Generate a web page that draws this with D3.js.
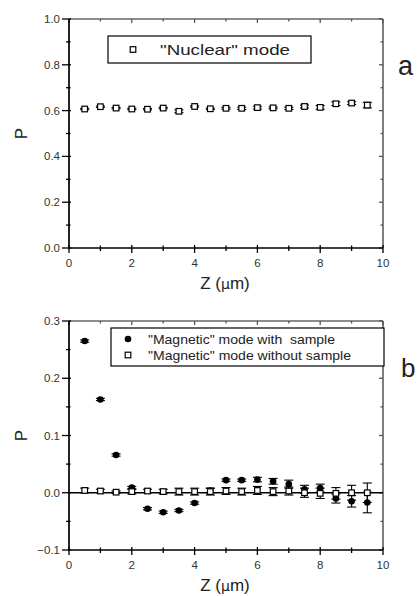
<!DOCTYPE html>
<html>
<head>
<meta charset="utf-8">
<script src="https://cdn.jsdelivr.net/npm/d3@7"></script>
<style>
  body { margin: 0; background: #fff; }
  svg text { font-family: "Liberation Sans", Arial, sans-serif; white-space: pre; }
</style>
</head>
<body>
<div id="chart"></div>
<script>
// positions along the sample (um)
var zVals = [0.5, 1, 1.5, 2, 2.5, 3, 3.5, 4, 4.5, 5, 5.5, 6, 6.5, 7, 7.5, 8, 8.5, 9, 9.5];

// panel a - "Nuclear" mode
var nuclear    = [0.607, 0.617, 0.611, 0.607, 0.606, 0.611, 0.597, 0.618, 0.608, 0.610, 0.610, 0.613, 0.612, 0.610, 0.618, 0.614, 0.630, 0.633, 0.624];
var nuclearErr = [0.003, 0.003, 0.003, 0.003, 0.003, 0.003, 0.006, 0.003, 0.003, 0.004, 0.005, 0.006, 0.004, 0.005, 0.006, 0.008, 0.008, 0.006, 0.012];

// panel b - "Magnetic" mode
var withSample    = [0.265, 0.163, 0.066, 0.009, -0.028, -0.034, -0.031, -0.018, 0.004, 0.022, 0.022, 0.023, 0.020, 0.015, 0.006, 0.008, -0.010, -0.015, -0.017];
var withSampleErr = [0.002, 0.002, 0.002, 0.002, 0.002, 0.002, 0.002, 0.002, 0.004, 0.002, 0.002, 0.004, 0.005, 0.007, 0.007, 0.007, 0.008, 0.010, 0.018];
var noSample      = [0.004, 0.003, 0.001, 0.002, 0.003, 0.002, 0.002, 0.002, 0.002, 0.003, 0.002, 0.004, 0.002, 0.003, 0.000, -0.001, -0.001, 0.000, 0.000];
var noSampleErr   = [0.004, 0.003, 0.002, 0.004, 0.003, 0.004, 0.006, 0.006, 0.006, 0.006, 0.006, 0.007, 0.007, 0.007, 0.008, 0.009, 0.010, 0.013, 0.017];

var xTicks = [0, 2, 4, 6, 8, 10];
var yTicksA = [0, 0.2, 0.4, 0.6, 0.8, 1.0];
var yTicksB = [-0.1, 0, 0.1, 0.2, 0.3];

var W = 420, H = 596;
var svg = d3.select("#chart").append("svg")
    .attr("width", W).attr("height", H);

function drawPanel(top, yDomain, yTicks, series, legend, letter) {
  var left = 69, right = 383, bottom = top + 229;
  var x = d3.scaleLinear().domain([0, 10]).range([left, right]);
  var y = d3.scaleLinear().domain(yDomain).range([bottom, top]);
  var g = svg.append("g");
  var step = yTicks[1] - yTicks[0];
  var minorY = d3.range(yDomain[0] + step / 2, yDomain[1], step);
  var minorX = d3.range(1, 10, 2);

  // frame: grey top/right, black left/bottom
  g.append("line").attr("x1", left).attr("x2", right).attr("y1", top).attr("y2", top)
    .attr("stroke", "#666").attr("stroke-width", 1.3);
  g.append("line").attr("x1", right).attr("x2", right).attr("y1", top).attr("y2", bottom)
    .attr("stroke", "#555").attr("stroke-width", 1.5);

  // ticks
  function ticksX(vals, a, b, yy, col) {
    g.selectAll(null).data(vals).enter().append("line")
      .attr("x1", function (d) { return x(d); }).attr("x2", function (d) { return x(d); })
      .attr("y1", yy + a).attr("y2", yy + b)
      .attr("stroke", col).attr("stroke-width", 1.3);
  }
  function ticksY(vals, a, b, xx, col) {
    g.selectAll(null).data(vals).enter().append("line")
      .attr("y1", function (d) { return y(d); }).attr("y2", function (d) { return y(d); })
      .attr("x1", xx + a).attr("x2", xx + b)
      .attr("stroke", col).attr("stroke-width", 1.3);
  }
  ticksX(xTicks, -3, 5, bottom, "#000");
  ticksX(minorX, -2.5, 3, bottom, "#000");
  ticksX(xTicks, 0, 4, top, "#555");
  ticksX(minorX, 0, 2.5, top, "#555");
  ticksY(yTicks, -7, 2, left, "#000");
  ticksY(minorY, -3, 1.5, left, "#000");
  ticksY(yTicks, -4, 0, right, "#555");
  ticksY(minorY, -2.5, 0, right, "#555");

  g.append("line").attr("x1", left).attr("x2", left).attr("y1", top).attr("y2", bottom + 1)
    .attr("stroke", "#000").attr("stroke-width", 1.7);
  g.append("line").attr("x1", left).attr("x2", right).attr("y1", bottom).attr("y2", bottom)
    .attr("stroke", "#000").attr("stroke-width", 1.7);

  // tick labels
  g.selectAll(null).data(xTicks).enter().append("text")
    .attr("x", function (d) { return x(d); }).attr("y", bottom + 19)
    .attr("text-anchor", "middle").attr("font-size", 11.5).attr("fill", "#333")
    .text(function (d) { return d; });
  g.selectAll(null).data(yTicks).enter().append("text")
    .attr("x", left - 9).attr("y", function (d) { return y(d) + 4; })
    .attr("text-anchor", "end").attr("font-size", 11.5).attr("fill", "#333")
    .text(function (d) { return d3.format(".1f")(d); });

  // axis titles
  var xt = g.append("text").attr("x", (left + right) / 2 - 1).attr("y", bottom + 41)
    .attr("text-anchor", "middle").attr("font-size", 17).attr("fill", "#222");
  xt.append("tspan").text("Z (");
  xt.append("tspan").attr("font-family", "DejaVu Sans").attr("font-size", 14).text("μ");
  xt.append("tspan").text("m)");
  g.append("text").attr("transform", "translate(27," + ((top + bottom) / 2) + ") rotate(-90)")
    .attr("text-anchor", "middle").attr("font-size", 17).attr("fill", "#222").text("P");

  g.append("text").attr("x", letter.x).attr("y", top + 56)
    .attr("font-size", letter.fs).attr("fill", "#222").text(letter.t);

  // zero line
  if (yDomain[0] < 0) {
    g.append("line").attr("x1", left).attr("x2", right).attr("y1", y(0)).attr("y2", y(0))
      .attr("stroke", "#000").attr("stroke-width", 1.4);
  }

  // data: error bars then markers
  series.forEach(function (s) {
    var pts = zVals.map(function (z, i) { return { z: z, v: s.vals[i], e: s.err[i] }; });
    var eb = g.append("g").attr("stroke", "#000").attr("stroke-width", 1.1);
    eb.selectAll(null).data(pts).enter().append("line")
      .attr("x1", function (d) { return x(d.z); }).attr("x2", function (d) { return x(d.z); })
      .attr("y1", function (d) { return y(d.v - d.e); }).attr("y2", function (d) { return y(d.v + d.e); });
    [-1, 1].forEach(function (sgn) {
      eb.selectAll(null).data(pts).enter().append("line")
        .attr("x1", function (d) { return x(d.z) - 4.5; }).attr("x2", function (d) { return x(d.z) + 4.5; })
        .attr("y1", function (d) { return y(d.v + sgn * d.e); }).attr("y2", function (d) { return y(d.v + sgn * d.e); });
    });
    if (s.shape === "circle") {
      g.selectAll(null).data(pts).enter().append("circle")
        .attr("cx", function (d) { return x(d.z); }).attr("cy", function (d) { return y(d.v); })
        .attr("r", 3.3).attr("fill", "#000");
    } else {
      g.selectAll(null).data(pts).enter().append("rect")
        .attr("x", function (d) { return x(d.z) - 2.8; }).attr("y", function (d) { return y(d.v) - 2.8; })
        .attr("width", 5.6).attr("height", 5.6)
        .attr("fill", "#fff").attr("stroke", "#000").attr("stroke-width", 1.2);
    }
  });

  // legend
  var lg = g.append("g");
  lg.append("rect").attr("x", legend.x).attr("y", legend.y).attr("width", legend.w).attr("height", legend.h)
    .attr("fill", "#fff").attr("stroke", "#000").attr("stroke-width", 1.2);
  legend.items.forEach(function (it, i) {
    var cy = legend.y + legend.pad + i * legend.gap;
    var mx = legend.x + legend.mx;
    if (it.shape === "circle") {
      lg.append("circle").attr("cx", mx).attr("cy", cy).attr("r", 3.3).attr("fill", "#000");
    } else {
      lg.append("rect").attr("x", mx - 2.8).attr("y", cy - 2.8).attr("width", 5.6).attr("height", 5.6)
        .attr("fill", "#fff").attr("stroke", "#000").attr("stroke-width", 1.2);
    }
    lg.append("text").attr("x", legend.x + legend.tx).attr("y", cy + legend.fs * 0.36)
      .attr("font-size", legend.fs).attr("fill", "#222")
      .attr("textLength", it.len).attr("lengthAdjust", "spacingAndGlyphs")
      .text(it.label);
  });
}

drawPanel(19, [0, 1.0], yTicksA,
  [{ vals: nuclear, err: nuclearErr, shape: "square" }],
  { x: 108, y: 36, w: 203, h: 27, pad: 13.5, gap: 0, mx: 25, tx: 52, fs: 15,
    items: [{ shape: "square", label: "\"Nuclear\" mode", len: 130 }] },
  { t: "a", x: 398, fs: 27 });

drawPanel(321, [-0.1, 0.3], yTicksB,
  [{ vals: withSample, err: withSampleErr, shape: "circle" },
   { vals: noSample, err: noSampleErr, shape: "square" }],
  { x: 111, y: 328, w: 273, h: 38, pad: 11, gap: 16, mx: 17, tx: 37, fs: 13,
    items: [{ shape: "circle", label: "\"Magnetic\" mode with  sample", len: 187 },
            { shape: "square", label: "\"Magnetic\" mode without sample", len: 203 }] },
  { t: "b", x: 401, fs: 26 });
</script>
</body>
</html>
